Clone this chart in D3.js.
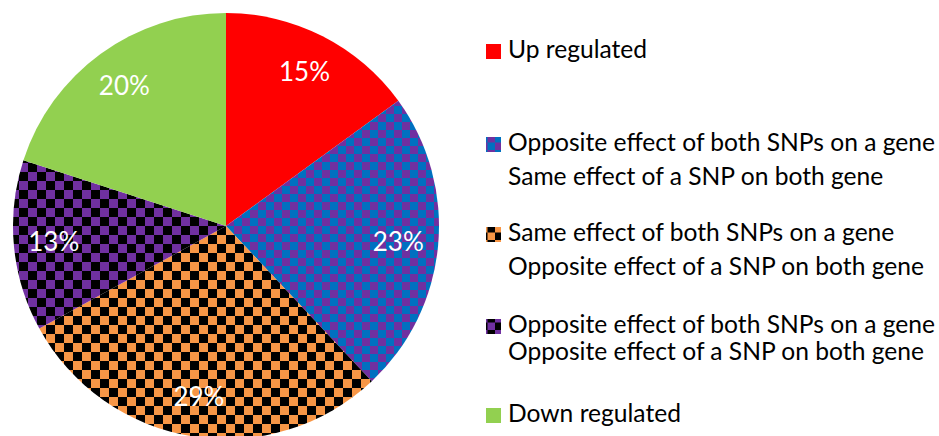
<!DOCTYPE html>
<html><head><meta charset="utf-8">
<script src="https://cdn.jsdelivr.net/npm/d3@7/dist/d3.min.js"></script>
<style>body{margin:0;background:#fff}svg{display:block}</style>
</head><body><svg id="c" width="939" height="436"></svg>
<script>
const categories = ["Up regulated","Opposite/Same","Same/Opposite","Opposite/Opposite","Down regulated"];
const values = [15, 23, 29, 13, 20];
const legendLines = [
  ["Up regulated"],
  ["Opposite effect of both SNPs on a gene","Same effect of a SNP on both gene"],
  ["Same effect of both SNPs on a gene","Opposite effect of a SNP on both gene"],
  ["Opposite effect of both SNPs on a gene","Opposite effect of a SNP on both gene"],
  ["Down regulated"]
];
const colorsA = ["#FF0000","#0070C0","#F79646","#7030A0","#92D050"];
const colorsB = [null,"#7030A0","#000000","#000000",null];
const cellSize = [0, 8, 9, 9, 0];

const svg = d3.select("#c");
const defs = svg.append("defs");
function makePattern(id, a, b, s) {
  const p = defs.append("pattern").attr("id", id).attr("patternUnits","userSpaceOnUse")
    .attr("width", 2*s).attr("height", 2*s);
  p.append("rect").attr("width",2*s).attr("height",2*s).attr("fill",a);
  p.append("rect").attr("x",s).attr("width",s).attr("height",s).attr("fill",b);
  p.append("rect").attr("y",s).attr("width",s).attr("height",s).attr("fill",b);
}
const fills = categories.map((c,i) => {
  if (!colorsB[i]) return colorsA[i];
  makePattern("p"+i, colorsA[i], colorsB[i], cellSize[i]);
  return "url(#p"+i+")";
});
const swFills = categories.map((c,i) => {
  if (!colorsB[i]) return colorsA[i];
  makePattern("s"+i, colorsA[i], colorsB[i], 7.5);
  return "url(#s"+i+")";
});

const cx = 226, cy = 226, R = 213;
const pie = d3.pie().sort(null).value(d => d);
const arcs = pie(values);
const arc = d3.arc().innerRadius(0).outerRadius(R);
const labelArc = d3.arc().innerRadius(173).outerRadius(173);
const g = svg.append("g").attr("transform", `translate(${cx},${cy})`);
g.selectAll("path").data(arcs).join("path").attr("d", arc).attr("fill", (d,i)=>fills[i]);
g.selectAll("text").data(arcs).join("text")
  .attr("transform", d => `translate(${labelArc.centroid(d)})`)
  .attr("text-anchor","middle").attr("dy","0.35em")
  .attr("font-family","Lato, sans-serif").attr("font-size",26).attr("fill","#fff")
  .text(d => d.data + "%");

const baselines = [[58],[151,185],[241,275],[333,360],[422]];
const lg = svg.append("g");
legendLines.forEach((lines,i) => {
  lg.append("rect").attr("x",486).attr("y",baselines[i][0]-14).attr("width",15).attr("height",15)
    .attr("fill", swFills[i]);
  lines.forEach((t,j) => {
    lg.append("text").attr("x",508).attr("y",baselines[i][j])
      .attr("font-family","Lato, sans-serif").attr("font-size",24.6).attr("fill","#000")
      .text(t);
  });
});
</script></body></html>
